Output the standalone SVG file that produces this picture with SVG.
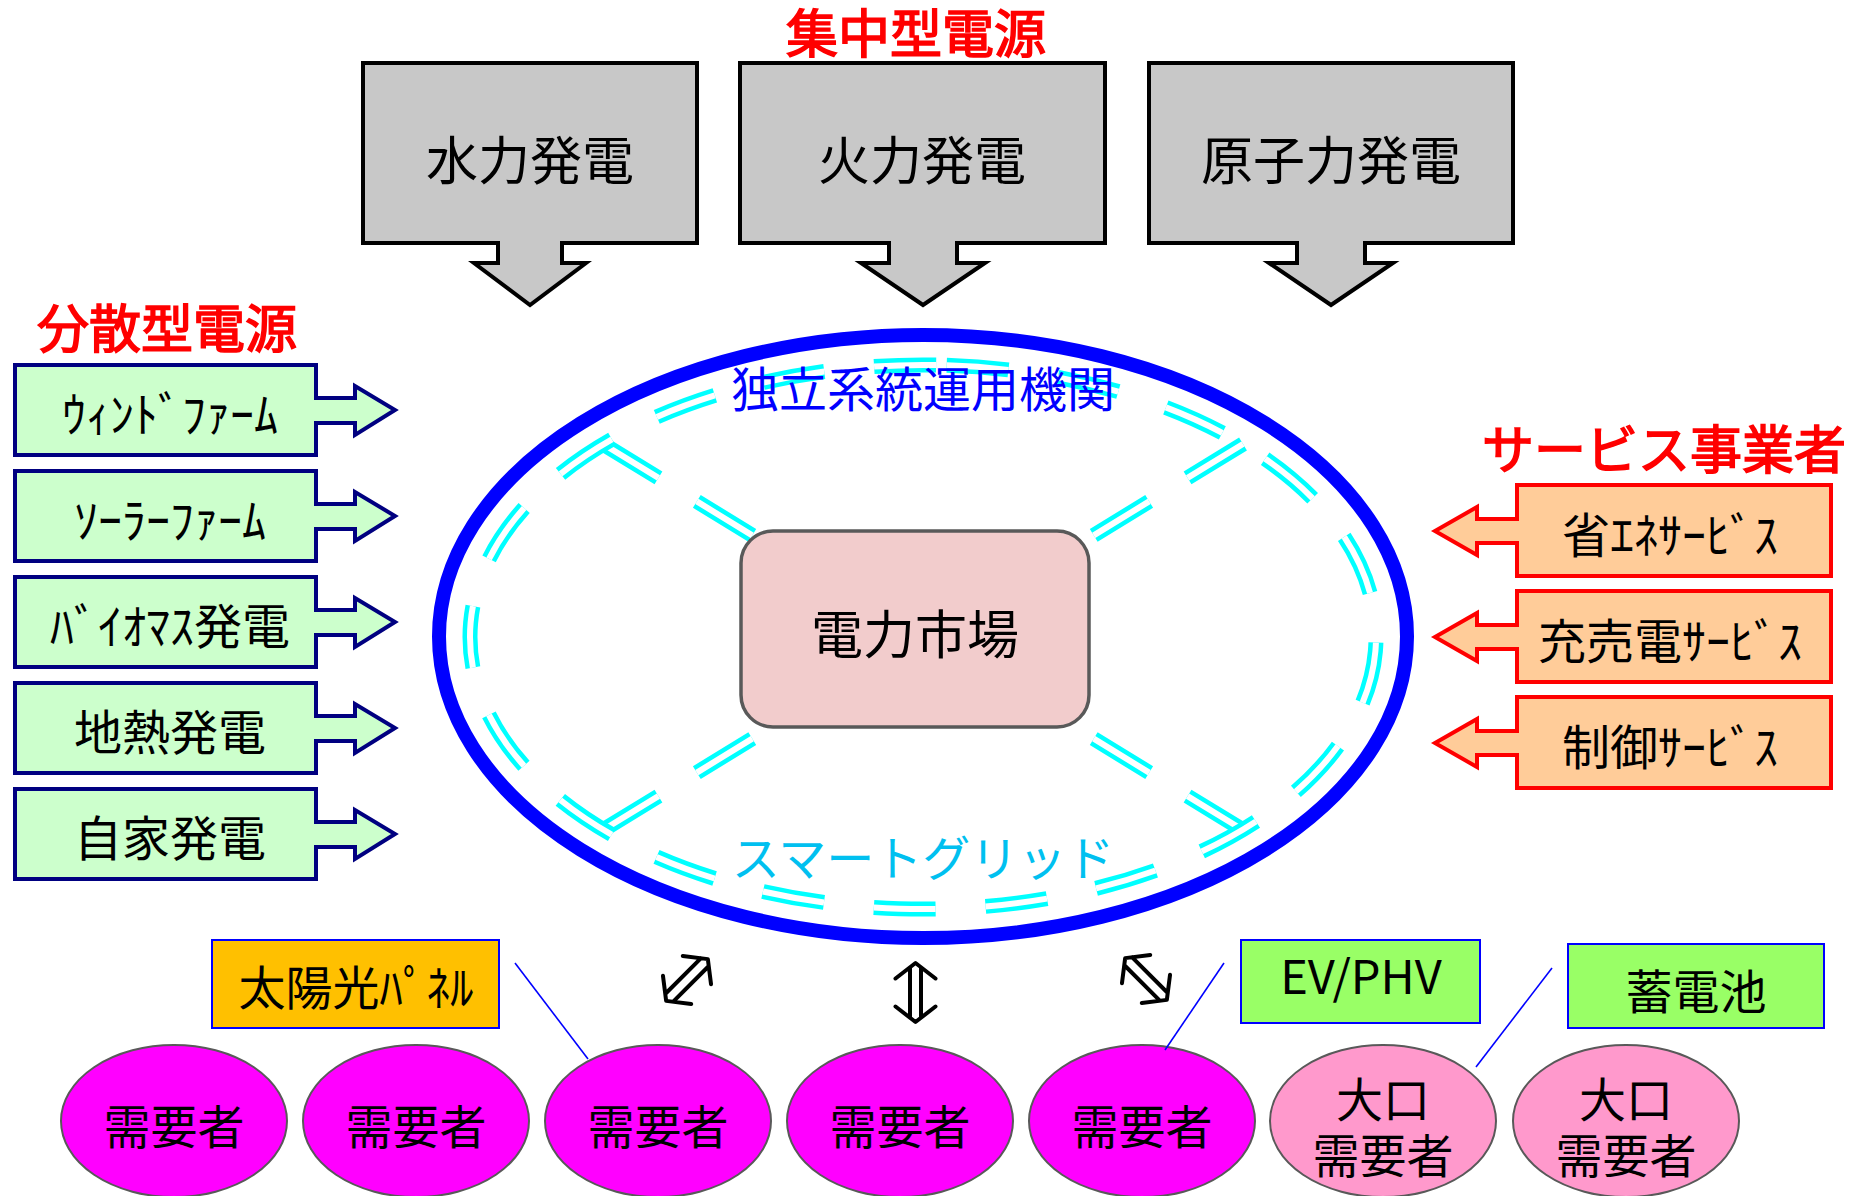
<svg xmlns="http://www.w3.org/2000/svg" width="1858" height="1196" viewBox="0 0 1858 1196">
<style>
text{font-family:"Noto Sans CJK JP","Noto Sans",sans-serif;text-anchor:middle}
.hdr{font-size:52px;font-weight:normal;fill:#ff0000;stroke:#ff0000;stroke-width:1.6}
.gray{fill:#c8c8c8;stroke:#000;stroke-width:4}
.green{fill:#ccffcc;stroke:#000080;stroke-width:4}
.orange{fill:#ffcc99;stroke:#ff0000;stroke-width:4}
.t52{font-size:52px;fill:#000}
.t48{font-size:48px;fill:#000}
.t47{font-size:47px;fill:#000}
.cons{fill:#ff00ff;stroke:#595959;stroke-width:2}
.big{fill:#ff99cc;stroke:#595959;stroke-width:2}
.dl{fill:none;stroke:#00ffff;stroke-width:15;stroke-dasharray:62 50}
.dlw{fill:none;stroke:#fff;stroke-width:6;stroke-dasharray:62 50}
.diag{fill:none;stroke:#00ffff;stroke-width:15;stroke-dasharray:65 45}
.diagw{fill:none;stroke:#fff;stroke-width:6;stroke-dasharray:65 45}
.lead{stroke:#0000ff;stroke-width:1.6;fill:none}
.dbl{fill:none;stroke:#000;stroke-width:4;stroke-linecap:round;stroke-linejoin:round}
.lbox{stroke:#0000ff;stroke-width:2}
</style>
<defs>
<path id="dblArrow" d="M-20,-14 L0,-29.5 L20,-14 M-5.5,-25 V25 M5.5,-25 V25 M-20,14 L0,29.5 L20,14"/>
</defs>

<!-- headers -->
<text class="hdr" x="916" y="53">集中型電源</text>
<text class="hdr" x="167" y="348">分散型電源</text>
<text class="hdr" x="1664" y="469">サービス事業者</text>

<!-- central grid -->
<g id="grid">
<ellipse cx="923" cy="636.5" rx="484" ry="301.5" fill="none" stroke="#0000ff" stroke-width="14"/>
<g id="grid-links">
<path class="diag" d="M603,444 L755,537 M1243,444 L1091,537 M603,830 L755,737 M1243,830 L1091,737"/>
<path class="diagw" d="M603,444 L755,537 M1243,444 L1091,537 M603,830 L755,737 M1243,830 L1091,737"/>
</g>
<path class="dl" d="M946.71,365.37 A453,272 0 0 1 899.29,908.63 A453,272 0 0 1 946.71,365.37"/>
<path class="dlw" d="M946.71,365.37 A453,272 0 0 1 899.29,908.63 A453,272 0 0 1 946.71,365.37"/>
<text x="923" y="407" font-size="48" fill="#0000ff">独立系統運用機関</text>
<text x="923" y="876" font-size="48" fill="#00c0f0">スマートグリッド</text>
</g>

<g id="market">
<rect x="741" y="531" width="348" height="196" rx="32" fill="#f2cccc" stroke="#595959" stroke-width="3.5"/>
<text class="t52" x="915" y="654" font-size="53">電力市場</text>
</g>

<!-- central power sources -->
<g id="hydro">
<path class="gray" d="M363,63 H697 V243 H562 V263 H586 L530,305 L474,263 H498 V243 H363 Z"/>
<text class="t52" x="530" y="180">水力発電</text>
</g>
<g id="thermal">
<path class="gray" d="M740,63 H1105 V243 H957 V263 H985 L923,305 L861,263 H889 V243 H740 Z"/>
<text class="t52" x="922" y="180">火力発電</text>
</g>
<g id="nuclear">
<path class="gray" d="M1149,63 H1513 V243 H1365 V263 H1393 L1331,305 L1269,263 H1297 V243 H1149 Z"/>
<text class="t52" x="1331" y="180">原子力発電</text>
</g>

<!-- distributed sources -->
<g id="wind">
<path class="green" d="M15,365 H316 V398 H355 V386 L395,410 L355,435 V423 H316 V455 H15 Z"/>
<text class="t48" x="170" y="432">ｳｨﾝﾄﾞﾌｧｰﾑ</text>
</g>
<g id="solarfarm">
<path class="green" d="M15,471 H316 V504 H355 V492 L395,516 L355,541 V529 H316 V561 H15 Z"/>
<text class="t48" x="170" y="538">ｿｰﾗｰﾌｧｰﾑ</text>
</g>
<g id="biomass">
<path class="green" d="M15,577 H316 V610 H355 V598 L395,622 L355,647 V635 H316 V667 H15 Z"/>
<text class="t48" x="170" y="644">ﾊﾞｲｵﾏｽ発電</text>
</g>
<g id="geothermal">
<path class="green" d="M15,683 H316 V716 H355 V704 L395,728 L355,753 V741 H316 V773 H15 Z"/>
<text class="t48" x="170" y="750">地熱発電</text>
</g>
<g id="selfgen">
<path class="green" d="M15,789 H316 V822 H355 V810 L395,834 L355,859 V847 H316 V879 H15 Z"/>
<text class="t48" x="170" y="856">自家発電</text>
</g>

<!-- service providers -->
<g id="energysave">
<path class="orange" d="M1517,485 H1831 V576 H1517 V543 H1477 V555 L1435,531 L1477,507 V519 H1517 Z"/>
<text class="t48" x="1670" y="553">省ｴﾈｻｰﾋﾞｽ</text>
</g>
<g id="charge">
<path class="orange" d="M1517,591 H1831 V682 H1517 V649 H1477 V661 L1435,637 L1477,613 V625 H1517 Z"/>
<text class="t48" x="1670" y="659">充売電ｻｰﾋﾞｽ</text>
</g>
<g id="control">
<path class="orange" d="M1517,697 H1831 V788 H1517 V755 H1477 V767 L1435,743 L1477,719 V731 H1517 Z"/>
<text class="t48" x="1670" y="765">制御ｻｰﾋﾞｽ</text>
</g>

<!-- equipment labels -->
<g id="pv">
<rect class="lbox" x="212" y="940" width="287" height="88" fill="#ffc000"/>
<text class="t47" x="356" y="1005">太陽光ﾊﾟﾈﾙ</text>
</g>
<g id="ev">
<rect class="lbox" x="1241" y="940" width="239" height="83" fill="#99ff66"/>
<text class="t47" x="1361" y="994" font-size="46">EV/PHV</text>
</g>
<g id="battery">
<rect class="lbox" x="1568" y="944" width="256" height="84" fill="#99ff66"/>
<text class="t47" x="1696" y="1009">蓄電池</text>
</g>

<!-- consumers -->
<g id="c1"><ellipse class="cons" cx="174" cy="1121" rx="113" ry="76"/><text class="t47" x="174" y="1144">需要者</text></g>
<g id="c2"><ellipse class="cons" cx="416" cy="1121" rx="113" ry="76"/><text class="t47" x="416" y="1144">需要者</text></g>
<g id="c3"><ellipse class="cons" cx="658" cy="1121" rx="113" ry="76"/><text class="t47" x="658" y="1144">需要者</text></g>
<g id="c4"><ellipse class="cons" cx="900" cy="1121" rx="113" ry="76"/><text class="t47" x="900" y="1144">需要者</text></g>
<g id="c5"><ellipse class="cons" cx="1142" cy="1121" rx="113" ry="76"/><text class="t47" x="1142" y="1144">需要者</text></g>
<g id="c6"><ellipse class="big" cx="1383" cy="1121" rx="113" ry="76"/><text class="t47" x="1383" y="1117">大口</text><text class="t47" x="1383" y="1173">需要者</text></g>
<g id="c7"><ellipse class="big" cx="1626" cy="1121" rx="113" ry="76"/><text class="t47" x="1626" y="1117">大口</text><text class="t47" x="1626" y="1173">需要者</text></g>

<!-- connectors -->
<g id="connectors">
<path class="lead" d="M515,963 L588,1059"/>
<path class="lead" d="M1224,963 L1165,1050"/>
<path class="lead" d="M1552,968 L1476,1067"/>
<use href="#dblArrow" class="dbl" transform="translate(687,980) rotate(45)"/>
<use href="#dblArrow" class="dbl" transform="translate(915.5,992.5)"/>
<use href="#dblArrow" class="dbl" transform="translate(1146,979) rotate(-45)"/>
</g>
</svg>
